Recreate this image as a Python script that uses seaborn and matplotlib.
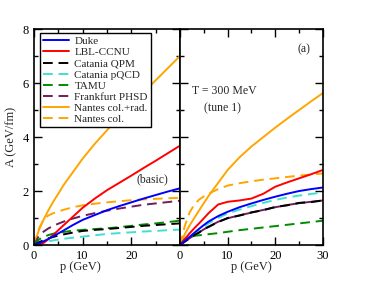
import matplotlib
matplotlib.use("Agg")
import matplotlib.pyplot as plt
from matplotlib.ticker import MultipleLocator
import seaborn as sns

# momentum grid (GeV), shared by all curves
p = [0, 1, 2, 3, 4, 5, 6, 8, 10, 12.5, 15, 17.5, 20, 22.5, 25, 27.5, 30]

# left panel: basic
duke_basic = [0, 0.06, 0.14, 0.23, 0.33, 0.43, 0.53, 0.74, 0.93, 1.11, 1.29, 1.44, 1.58, 1.72, 1.85, 1.98, 2.1]
lbl_basic = [0, 0.01, 0.08, 0.22, 0.38, 0.55, 0.72, 1.05, 1.38, 1.72, 2.03, 2.3, 2.57, 2.85, 3.12, 3.4, 3.68]
qpm_basic = [0, 0.1, 0.18, 0.25, 0.3, 0.35, 0.39, 0.46, 0.52, 0.56, 0.59, 0.63, 0.67, 0.71, 0.74, 0.77, 0.8]
pqcd_basic = [0, 0.05, 0.1, 0.14, 0.17, 0.2, 0.23, 0.27, 0.31, 0.36, 0.41, 0.44, 0.47, 0.5, 0.52, 0.55, 0.57]
tamu_basic = [0, 0.2, 0.3, 0.37, 0.42, 0.45, 0.48, 0.53, 0.56, 0.59, 0.62, 0.66, 0.71, 0.76, 0.8, 0.85, 0.9]
phsd_basic = [0, 0.33, 0.5, 0.62, 0.71, 0.79, 0.86, 0.98, 1.08, 1.18, 1.27, 1.35, 1.42, 1.49, 1.54, 1.59, 1.64]
rad_basic = [0, 0.55, 0.95, 1.3, 1.62, 1.9, 2.2, 2.7, 3.2, 3.75, 4.25, 4.75, 5.2, 5.65, 6.1, 6.55, 7.0]
col_basic = [0, 0.6, 0.95, 1.1, 1.18, 1.24, 1.3, 1.4, 1.47, 1.53, 1.58, 1.62, 1.66, 1.69, 1.71, 1.73, 1.75]

# right panel: tune 1
duke_tune = [0, 0.15, 0.3, 0.45, 0.6, 0.74, 0.87, 1.07, 1.23, 1.4, 1.54, 1.67, 1.79, 1.9, 2.0, 2.07, 2.13]
lbl_tune = [0, 0.22, 0.43, 0.62, 0.8, 0.99, 1.18, 1.5, 1.6, 1.65, 1.72, 1.9, 2.16, 2.32, 2.47, 2.62, 2.78]
qpm_tune = [0, 0.13, 0.24, 0.37, 0.46, 0.59, 0.67, 0.85, 1.0, 1.09, 1.21, 1.29, 1.41, 1.47, 1.56, 1.59, 1.65]
pqcd_tune = [0, 0.14, 0.28, 0.42, 0.56, 0.68, 0.8, 1.0, 1.17, 1.31, 1.44, 1.56, 1.67, 1.76, 1.83, 1.89, 1.95]
tamu_tune = [0, 0.22, 0.3, 0.34, 0.36, 0.38, 0.4, 0.44, 0.49, 0.55, 0.6, 0.65, 0.7, 0.75, 0.8, 0.85, 0.9]
phsd_tune = [0, 0.12, 0.25, 0.36, 0.47, 0.58, 0.68, 0.86, 0.99, 1.1, 1.2, 1.3, 1.4, 1.48, 1.55, 1.6, 1.65]
rad_tune = [0, 0.4, 0.72, 1.0, 1.28, 1.55, 1.82, 2.3, 2.78, 3.25, 3.65, 4.0, 4.35, 4.68, 5.0, 5.32, 5.63]
col_tune = [0, 0.7, 1.2, 1.5, 1.68, 1.8, 1.9, 2.07, 2.2, 2.29, 2.36, 2.42, 2.47, 2.52, 2.57, 2.61, 2.65]

labels = ["Duke", "LBL-CCNU", "Catania QPM", "Catania pQCD", "TAMU",
          "Frankfurt PHSD", "Nantes col.+rad.", "Nantes col."]
colors = ["#0000ff", "#ff0000", "#000000", "#40e0d0", "#008c00",
          "#6e1e5a", "#ffa500", "#ffa500"]
dashed = [False, False, True, True, True, True, False, True]

basic = [duke_basic, lbl_basic, qpm_basic, pqcd_basic, tamu_basic,
         phsd_basic, rad_basic, col_basic]
tune = [duke_tune, lbl_tune, qpm_tune, pqcd_tune, tamu_tune,
        phsd_tune, rad_tune, col_tune]

sns.set_style("ticks")
plt.rcParams["font.family"] = ["Liberation Serif", "DejaVu Serif"]
plt.rcParams["mathtext.fontset"] = "stix"

fig = plt.figure(figsize=(3.74, 2.89), dpi=100)
ax1 = fig.add_axes([34 / 374, 1 - 245 / 289, 146 / 374, 216 / 289])
ax2 = fig.add_axes([180 / 374, 1 - 245 / 289, 143 / 374, 216 / 289])

dash = (0, (5, 3))
for ax, curves in [(ax1, basic), (ax2, tune)]:
    # draw in reverse so Duke sits on top, like the original
    order = list(range(len(labels)))[::-1]
    for i in order:
        ls = dash if dashed[i] else "-"
        if ax is ax2 and labels[i] == "Frankfurt PHSD":
            ls = "-"
        sns.lineplot(x=p, y=curves[i], ax=ax, color=colors[i], linestyle=ls,
                     lw=1.4, label=labels[i], estimator=None, errorbar=None,
                     legend=False)

    ax.set_xlim(0, 30)
    ax.set_ylim(0, 8)
    ax.xaxis.set_minor_locator(MultipleLocator(5))
    ax.yaxis.set_minor_locator(MultipleLocator(1))
    ax.tick_params(which="both", direction="in", top=True, right=True,
                   labelsize=9, colors="black", width=1)
    ax.tick_params(which="major", length=6)
    ax.tick_params(which="minor", length=3)
    for s in ax.spines.values():
        s.set_linewidth(1.2)
        s.set_color("black")

ax1.set_xticks([0, 10, 20, 30])
ax1.set_xticklabels(["0", "10", "20", ""])
ax1.set_yticks([0, 2, 4, 6, 8])
ax2.set_xticks([0, 10, 20, 30])
ax2.set_yticks([0, 2, 4, 6, 8])
ax2.set_yticklabels([])

ax1.set_ylabel("A (GeV/fm)", fontsize=9, labelpad=4)
ax1.set_xlabel("p (GeV)", fontsize=9, labelpad=1)
ax1.xaxis.set_label_coords(0.32, -0.075)
ax2.set_xlabel("p (GeV)", fontsize=9, labelpad=1)
ax2.xaxis.set_label_coords(0.5, -0.075)

handles, hl = ax1.get_legend_handles_labels()
lookup = dict(zip(hl, handles))
leg = ax1.legend([lookup[l] for l in labels], labels, loc="upper left",
                 bbox_to_anchor=(0.041, 0.981), borderaxespad=0,
                 fontsize=8, frameon=True, fancybox=False, edgecolor="black",
                 framealpha=1, labelspacing=0.12, borderpad=0.3,
                 handlelength=2.3, handletextpad=0.5)
leg.get_frame().set_linewidth(1.0)

ax1.text(24.4, 2.44, "(basic)", fontsize=8.5, ha="center", va="center")
ax2.text(9.2, 5.7, "T = 300 MeV", fontsize=8.5, ha="center", va="center")
ax2.text(8.8, 5.07, "(tune 1)", fontsize=8.5, ha="center", va="center")
ax2.text(26.0, 7.26, "(a)", fontsize=8.5, ha="center", va="center")

fig.savefig("out.png", dpi=100)
